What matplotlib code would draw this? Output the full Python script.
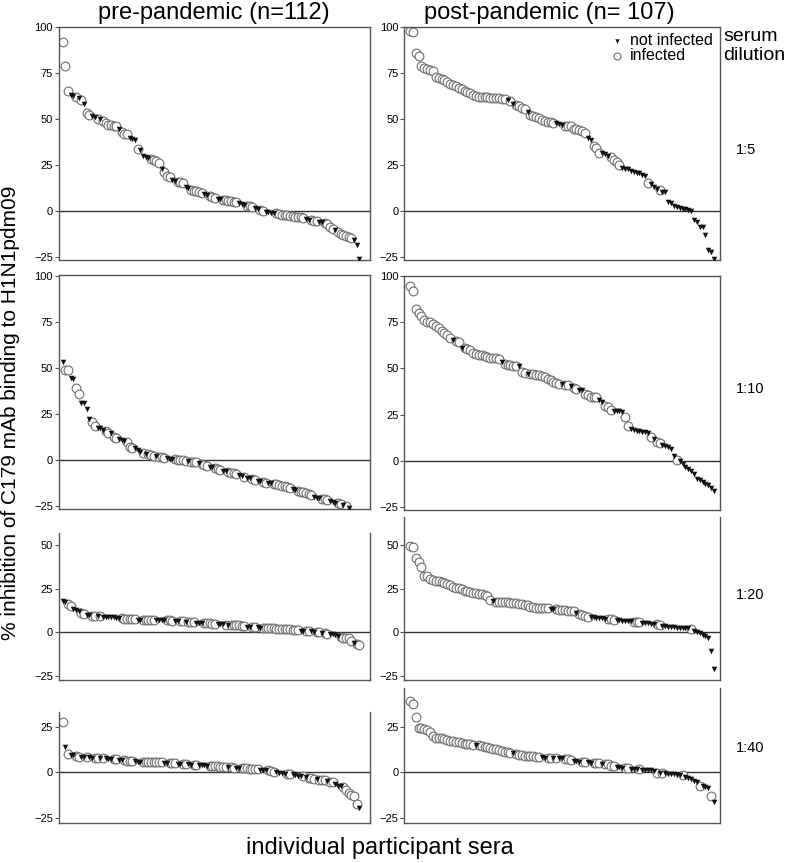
import numpy as np
import matplotlib
matplotlib.use("Agg")
import matplotlib.pyplot as plt

plt.rcParams['font.family'] = ['Liberation Sans', 'DejaVu Sans']

# O = infected (open circle), T = not infected (filled triangle)
pre_5 = [92, 79, 65.5, 63, 62.5, 62, 61.5, 60.5, 58, 53.5,
         52, 51.5, 51, 50, 49.8, 49, 48, 47, 46.5, 46,
         46, 44.5, 43, 42, 42, 39.5, 39, 38.5, 33.5, 33,
         30, 29.5, 29, 28, 27.5, 27, 26, 23, 21, 19,
         18.5, 17, 16, 15.5, 15.5, 15, 13, 12.5, 11.5, 11,
         10.5, 10, 9.5, 9, 8.5, 8, 7.5, 7, 6.5, 6.5,
         6, 5.8, 5.5, 5.3, 5, 5, 4, 3.5, 3, 2.5,
         2.3, 2, 1.5, 1, 0.5, -0.3, -0.5, -0.8, -1, -1.2,
         -1.5, -2, -2.2, -2.4, -2.6, -2.8, -3, -3.2, -3.4, -3.6,
         -4, -4.5, -5, -5.3, -5.5, -5.7, -6, -6.3, -6.5, -7,
         -9, -10, -10.5, -11.5, -12.5, -13.5, -14, -14.5, -15, -16,
         -18.5, -26.5]
pre_5_grp = ("OOOTTOTOTO" "OTTOTOOOOO" "OTOOOTTTOT" "TTTOOOOTOO" "OTTOOOTTOO"
             "OOOTTOOOTT" "OOOOOOTTTO" "OOTTOOTTTT" "OOOOOOOOOO" "OTTOOOTTOO"
             "OOTOOOOOOT" "TT")

post_5 = [97.8, 97.5, 86, 84.5, 79, 78, 77.5, 76.5, 76, 73,
          72.5, 72, 71.5, 70, 69, 68.5, 68, 67, 66.5, 65.5,
          64.5, 64, 63, 62.5, 62, 62, 62, 61.8, 61.5, 61.5,
          61.3, 61.2, 61, 60.8, 60.5, 60, 58.3, 57.5, 57, 56,
          55.3, 53.8, 52, 51.5, 51, 50.5, 49.6, 49, 48.5, 48.2,
          48, 47.8, 47.5, 47, 46.4, 46.4, 46, 44.8, 44.4, 43.8,
          43.3, 42.4, 39.9, 38.4, 35.1, 34.4, 31.5, 31.5, 30.8, 29.7,
          29.4, 27.9, 26.6, 24.8, 23.4, 23, 22.5, 21.7, 21.2, 20.7,
          20.3, 19.6, 19, 15.2, 14.3, 13, 12.1, 11.2, 10.3, 10.1,
          4.9, 4, 2.5, 2.2, 1.4, 1.1, 0.7, 0.4, -0.4, -5,
          -6.2, -8.7, -9, -13.2, -21.4, -22.3, -26.4]
post_5_grp = ("OOOOOOOOOO" "OOOOOOOOOO" "OOOOOOOOOO" "OOOOTOTOOO" "OTOOOOOOOO"
              "OTTTOOOOOO" "OOTTOOOTTT" "OOOOTTTTTT" "TTTOTTTOTT" "TTTTTTTTTT"
              "TTTTTTT")

pre_10 = [53, 49, 49, 44.4, 43.8, 39, 35.9, 31.2, 30.8, 27.5,
          22.1, 20.8, 18.5, 17.6, 17.2, 16.3, 15.8, 14.9, 14.5, 12.7,
          11.8, 11.2, 10.9, 10.3, 10, 7.2, 6.7, 6.3, 5.4, 4.5,
          3.6, 3.3, 3.1, 2.7, 2.4, 2.2, 1.8, 1.4, 1.3, 0.9,
          0.7, 0.5, 0.4, 0.2, 0, -0.2, -0.4, -0.7, -0.9, -1.1,
          -1.3, -1.8, -2.2, -2.7, -3.1, -3.6, -4, -4.5, -5.1, -5.4,
          -5.8, -6.2, -6.5, -6.9, -7.2, -7.8, -8.2, -8.7, -9.1, -9.6,
          -10, -10.5, -10.9, -11.2, -11.6, -12, -12.3, -12.3, -12.7, -13,
          -13.2, -13.6, -13.9, -14.3, -14.7, -15.2, -15.8, -16.1, -16.7, -17.2,
          -17.6, -18.1, -18.7, -19.2, -20.3, -20.5, -20.7, -21, -21.4, -21.6,
          -22.1, -22.6, -23.2, -23.6, -23.9, -24.5, -25, -25.9, -28, -29.5,
          -31, -34]
pre_10_grp = ("TOOTTOOTTT" "TOOTTTOOTO" "OTTTOOOTTT" "OTOOOTOOOT" "TTOOOOOTOO"
              "OTOOOTTOOO" "TTOOOOTTOT" "TOOTTOOTTO" "OOOOOOTTOO" "OOOOTTTOOO"
              "TTTOOTOTTT" "TT")

post_10 = [94.4, 91.7, 82, 80.2, 78.4, 76.2, 75.3, 75, 74, 73,
           71.7, 70.4, 69, 68, 66.2, 65.3, 65, 64.4, 61.3, 60.8,
           60.3, 59.9, 58.4, 57.7, 57.5, 57.2, 56.6, 56.3, 55.9, 55.7,
           55.4, 55, 53.5, 52.6, 52.1, 51.7, 51.5, 51.2, 51.2, 47.9,
           47.5, 47.2, 47.2, 46.8, 46.6, 46.3, 45.7, 45.4, 44.5, 43.6,
           42.6, 42.1, 41.7, 41.4, 40.8, 40.8, 40.3, 39.6, 39, 38.5,
           38.1, 36.3, 35.4, 34.8, 34.5, 34.5, 32.7, 31.8, 29.9, 29,
           27.6, 27.2, 26.9, 26.7, 26.3, 23.6, 19.1, 17.2, 16.7, 16.3,
           16, 15.8, 15.4, 14.9, 12.7, 11.8, 10.3, 9.4, 8.7, 8.2,
           7.6, 6.4, 2.7, 0.4, 0, -1.8, -3.3, -4.5, -5.4, -6.9,
           -10, -10.5, -11.3, -12.3, -13.1, -14.5, -16.3]
post_10_grp = ("OOOOOOOOOO" "OOOOOTOOTO" "OOOOOOOOOO" "OOTOOOOOTO" "OTOOOOOOOO"
               "OOOTOOTOOT" "TOOOOOTTOO" "OTTTTOOTTT" "TTTTOTOOTT" "TTTOTTTTTT"
               "TTTTTTT")

pre_20 = [17.9, 17.6, 16.6, 15.1, 13.7, 12.8, 12.4, 10.9, 10.5, 10.1,
          9.9, 9.7, 9.5, 9.4, 9.2, 9, 9, 8.8, 8.6, 8.6,
          8.4, 8.4, 8.2, 8, 8, 8, 7.8, 7.8, 7.4, 7.4,
          7.4, 7.4, 7.4, 7.4, 7.3, 7.1, 7.1, 7.1, 6.9, 6.9,
          6.9, 6.7, 6.5, 6.5, 6.5, 6.3, 6.1, 6.1, 5.9, 5.9,
          5.5, 5.5, 5.3, 5.2, 5.2, 5.2, 5, 5, 4.8, 4.6,
          4.6, 4.4, 4.4, 4.2, 4.2, 4, 4, 3.8, 3.6, 3.4,
          3.2, 3.1, 3.1, 2.9, 2.7, 2.7, 2.7, 2.5, 2.3, 2.3,
          2.1, 1.9, 1.9, 1.9, 1.7, 1.7, 1.5, 1.5, 1.3, 1.1,
          1.1, 1, 0.8, 0.6, 0.4, 0.4, 0.2, -0.2, -0.6, -1,
          -1, -1.1, -1.5, -1.9, -2.5, -2.9, -3.2, -3.4, -4.8, -6,
          -6.5, -7.2]
pre_20_grp = ("TTOOTTTOOT" "TOOTOTTTTT" "TTOOOOOOTT" "OOOOOTTTTO" "OOTTOOTOOO"
              "TTTOOOOOTT" "TOTOOOOOOT" "TOOTTOOOOO" "OOOOOOOOOT" "TOOTTOOTOO"
              "TTTTOOOOOT" "OO")

post_20 = [49.6, 49, 42.7, 40.1, 37.6, 32.4, 32.3, 30.3, 30, 29.6,
           29.2, 28.8, 28.4, 27.7, 26.9, 26.1, 25.4, 25.2, 24.6, 23.9,
           23.5, 23.1, 22.7, 22.3, 22.1, 21.9, 21.4, 20.8, 18.5, 18.1,
           17.6, 17.4, 17.4, 17.2, 17.2, 17, 16.8, 16.6, 16.4, 16.2,
           15.8, 15.5, 14.7, 14.3, 14.1, 14.1, 13.9, 13.9, 13.7, 13.5,
           13.4, 13.2, 13, 12.8, 12.6, 12.4, 12.2, 12, 10.9, 10.3,
           9.9, 9.4, 9, 8.8, 8.6, 8.4, 8.2, 8, 7.8, 7.4,
           7.4, 7.3, 7.1, 6.9, 6.7, 6.5, 6.5, 6.3, 6.1, 5.9,
           5.7, 5.5, 5.3, 5.2, 5, 4.8, 4.6, 4.2, 3.6, 3.4,
           3.2, 3.1, 2.9, 2.7, 2.7, 2.5, 2.5, 2.3, 1.7, 1,
           0.4, -0.6, -1.5, -2.1, -3.4, -10.5, -21]
post_20_grp = ("OOOOOOOOOO" "OOOOOOOOOO" "OOOOOOOOOT" "OOOOOOOOOO" "OOOOOOOOOT"
               "TOOOOOOOTO" "OOOTTTTTTO" "OOTTTTTTOO" "OTTTTTOOTT" "TTTTTTTTOT"
               "TTTTTTT")

pre_40 = [27.7, 13.8, 10.3, 9.7, 9.4, 8.8, 8.4, 8.4, 8.3, 8.3,
          8.3, 8.1, 8.1, 7.9, 7.9, 7.7, 7.7, 7.5, 7.5, 7.3,
          7.3, 7, 7, 6.8, 6.4, 6.2, 6.2, 6.1, 5.9, 5.9,
          5.9, 5.9, 5.9, 5.7, 5.7, 5.7, 5.5, 5.5, 5.3, 5.1,
          5.1, 5.1, 5, 4.8, 4.8, 4.6, 4.6, 4.4, 4.2, 4.2,
          4, 4, 3.9, 3.9, 3.7, 3.5, 3.5, 3.3, 3.3, 3.1,
          2.9, 2.9, 2.8, 2.8, 2.6, 2.4, 2.4, 2.2, 2.2, 2.2,
          2, 2, 1.8, 1.8, 1.5, 1.5, 1.5, 1.3, 0.9, 0.4,
          0, -0.2, -0.4, -0.6, -0.6, -0.7, -1.1, -1.3, -1.7, -1.8,
          -2.2, -2.4, -2.8, -3.1, -3.5, -3.7, -4, -4.2, -4.4, -4.6,
          -5, -5.3, -6.2, -7.2, -7.7, -8.1, -9.5, -11.4, -12.3, -12.8,
          -17.2, -19.3]
pre_40_grp = ("OTOTTOOTTO" "TTOOTOTTTO" "OTTOOOOTTT" "OOOOOOOOTT" "OOOTTOOTTO"
              "OTTTTOOOOO" "OOTOOTTOOO" "OOOOTTTOOO" "TTTTOOTTTT" "OTOOOTOOOT"
              "OOTTTOOOOO" "OT")

post_40 = [39.1, 37.5, 30.7, 24.5, 24.3, 23.9, 23.2, 22.5, 20, 19.1,
           18.8, 18.8, 18.2, 17.7, 17.3, 17.1, 17, 16.8, 16.3, 15.9,
           15.9, 15.5, 15.4, 15, 15, 14.6, 14.1, 13.8, 13.4, 13.2,
           12.9, 12.5, 12, 11.4, 11.1, 10.7, 10.5, 10.2, 9.8, 9.6,
           9.3, 8.9, 8.8, 8.8, 8.6, 8.6, 8.4, 8.2, 8, 7.9,
           7.9, 7.9, 7.7, 7.7, 7.5, 7.3, 6.6, 6.3, 6.1, 5.9,
           5.7, 5.7, 5.5, 5.4, 5.2, 5.2, 5, 4.8, 4.6, 4.5,
           3.8, 3.4, 3, 2.9, 2.7, 2.5, 2.3, 2.1, 2, 2,
           2, 1.6, 1.4, 1.3, 1.1, 0.7, -0.2, -0.4, -0.4, -0.5,
           -0.7, -0.9, -1.1, -1.3, -1.4, -1.6, -2.7, -3.2, -3.8, -4.5,
           -5, -7.3, -7.7, -8, -8.6, -12.7, -16.3]
post_40_grp = ("OOOOOOOOOO" "OOOOOOOOOO" "OOOTOOOOOO" "OOOOOOTOOO" "OOOOOOTTOO"
               "TOTTOOOTTT" "OOTTOOOTOO" "OOTTTOOTTT" "OTTTTTOTOT" "TTTTTOTTTT"
               "TOTTTOT")

dilutions = ["1:5", "1:10", "1:20", "1:40"]
col_titles = ["pre-pandemic (n=112)", "post-pandemic (n= 107)"]

W, H = 787, 863
fig = plt.figure(figsize=(W / 100, H / 100), dpi=100)


def px_axes(x0, y0, x1, y1):
    # pixel box (top-left origin) -> figure axes
    return fig.add_axes([x0 / W, 1 - y1 / H, (x1 - x0) / W, (y1 - y0) / H])


# data, pixel boxes (left top/bottom, right top/bottom), ylims, ticks, top spine
rows = [
    (pre_5, pre_5_grp, post_5, post_5_grp, (27, 260, 27, 260), (-26.9, 100.2), (-26.9, 100.2), [-25, 0, 25, 50, 75, 100], True),
    (pre_10, pre_10_grp, post_10, post_10_grp, (275, 509, 276, 510), (-26.6, 100.5), (-26.6, 100.0), [-25, 0, 25, 50, 75, 100], True),
    (pre_20, pre_20_grp, post_20, post_20_grp, (533, 680, 517, 680), (-27.3, 57.1), (-27.3, 66.1), [-25, 0, 25, 50], False),
    (pre_40, pre_40_grp, post_40, post_40_grp, (712, 823, 688, 823), (-27.8, 33.2), (-27.8, 46.5), [-25, 0, 25], False),
]

spine_col = "#555555"
for r, (lv, lg, rv, rg, box, ylim_l, ylim_r, ticks, top_on) in enumerate(rows):
    for c, (vals, grp, ylim) in enumerate([(lv, lg, ylim_l), (rv, rg, ylim_r)]):
        if c == 0:
            ax = px_axes(58.5, box[0], 370, box[1])
            ax.set_xlim(-1.6, 115.0)
        else:
            ax = px_axes(404, box[2], 719.5, box[3])
            ax.set_xlim(-2.1, 107.9)
        vals = np.array(vals)
        idx = np.arange(len(vals))
        inf = np.array([g == "O" for g in grp])
        ax.axhline(0, color="#333333", lw=1.0, zorder=1)
        ax.scatter(idx[inf], vals[inf], s=40, facecolors="white",
                   edgecolors="#6e6e6e", linewidths=0.8, zorder=2, label="infected")
        ax.scatter(idx[~inf], vals[~inf], s=16, marker="v", color="#111111",
                   linewidths=0, zorder=3, label="not infected")
        ax.set_ylim(*ylim)
        ax.set_yticks(ticks)
        ax.set_xticks([])
        ax.tick_params(axis="y", length=3, width=0.8, labelsize=8,
                       color=spine_col, pad=1)
        for s in ax.spines.values():
            s.set_color(spine_col)
            s.set_linewidth(1.0)
        ax.spines["top"].set_visible(top_on)
        if r == 0 and c == 1:
            h, l = ax.get_legend_handles_labels()
            ax.legend(h[::-1], l[::-1], loc="upper right", frameon=False,
                      fontsize=11.5, handletextpad=-0.2, labelspacing=0.0,
                      borderpad=0.2, borderaxespad=0.2, markerscale=0.8,
                      bbox_to_anchor=(1.0, 1.0))

fig.text(214 / W, 1 - 13 / H, col_titles[0], fontsize=17, ha="center", va="center")
fig.text(549 / W, 1 - 13 / H, col_titles[1], fontsize=17, ha="center", va="center")
fig.text(723 / W, 1 - 41 / H, "serum", fontsize=14, ha="left", va="baseline")
fig.text(723 / W, 1 - 60 / H, "dilution", fontsize=14, ha="left", va="baseline")
for lab, yc in zip(dilutions, [150, 389, 595, 748]):
    fig.text(736 / W, 1 - yc / H, lab, fontsize=10.5, ha="left", va="center")
fig.text(11 / W, 1 - 413 / H, "% inhibition of C179 mAb binding to H1N1pdm09",
         fontsize=15, rotation=90, ha="center", va="center")
fig.text(380 / W, 1 - 848 / H, "individual participant sera", fontsize=17,
         ha="center", va="center")

fig.savefig("out.png", dpi=100)
